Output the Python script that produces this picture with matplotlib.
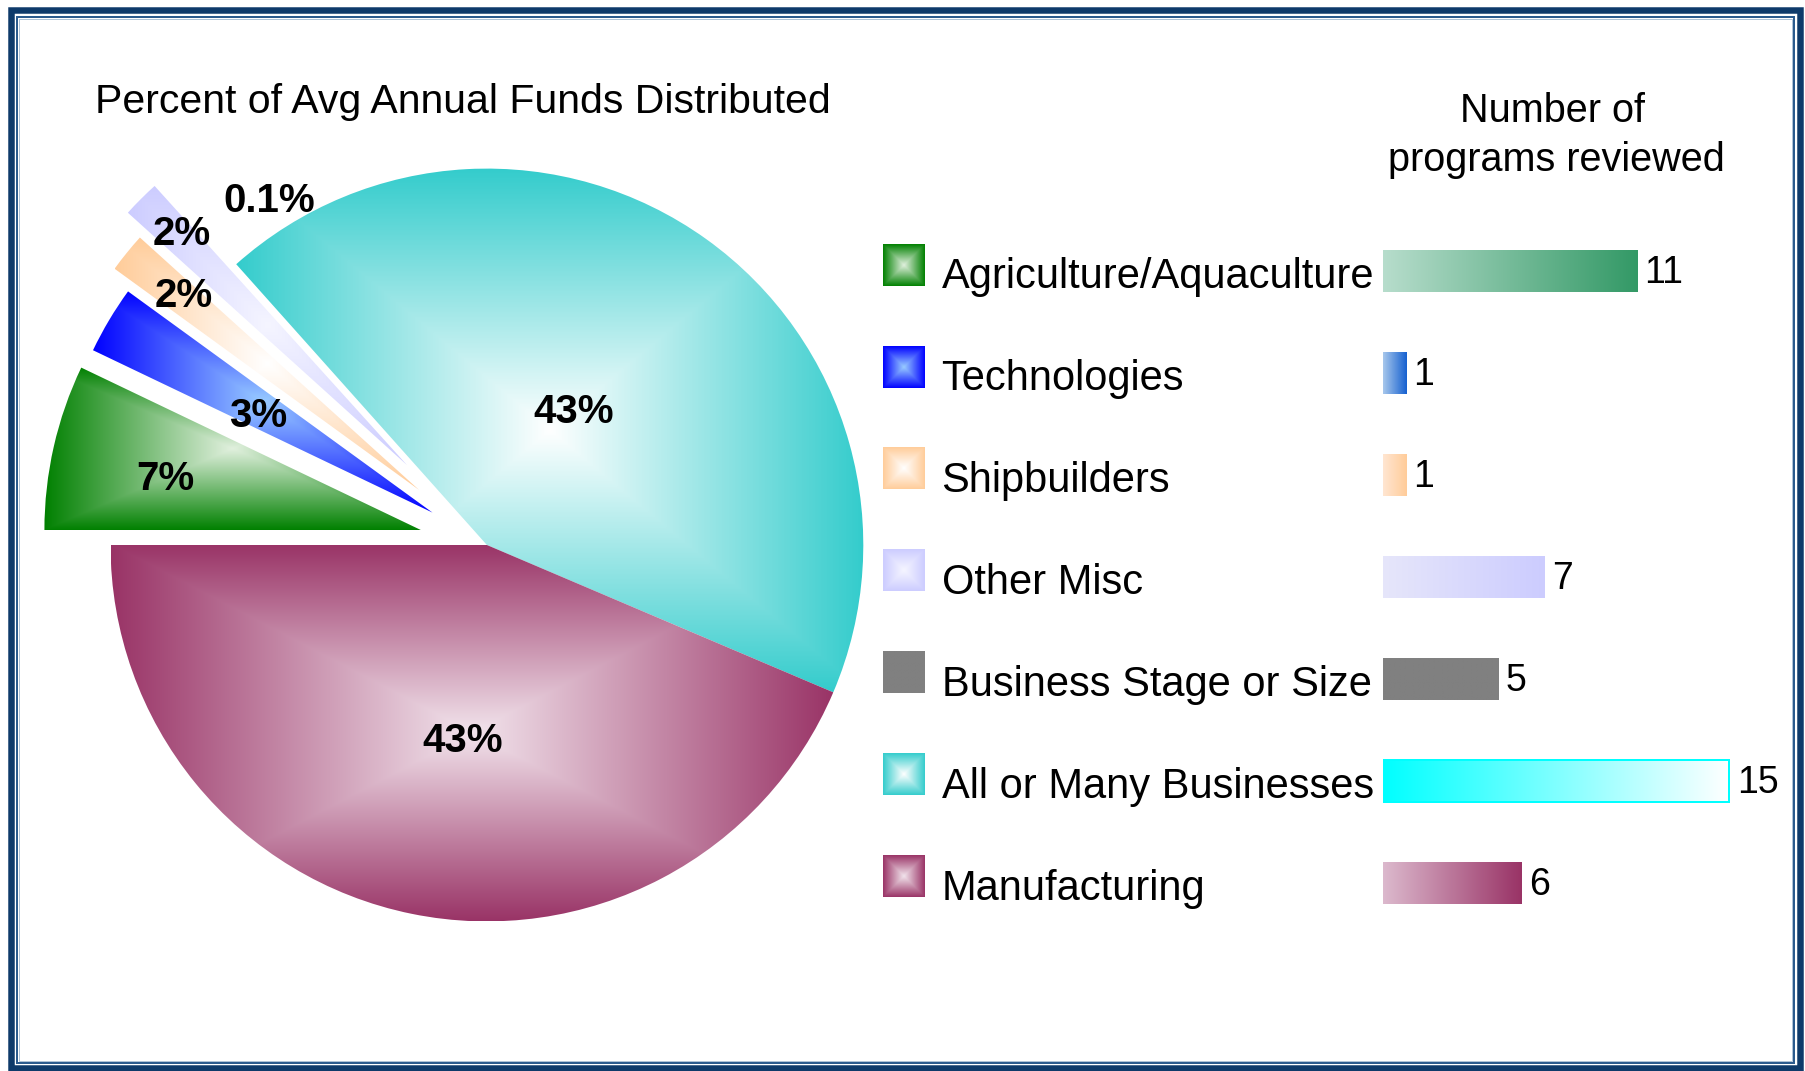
import numpy as np
import matplotlib
matplotlib.use("Agg")
import matplotlib.pyplot as plt
from matplotlib.colors import to_rgb
from matplotlib.patches import Rectangle

# ---------------- data ----------------
categories = ["Agriculture/Aquaculture", "Technologies", "Shipbuilders", "Other Misc",
              "Business Stage or Size", "All or Many Businesses", "Manufacturing"]
pie_share = [7.1, 2.9, 1.7, 1.6, 0.1, 43.0, 43.6]
pie_labels = ["7%", "3%", "2%", "2%", "0.1%", "43%", "43%"]
programs = [11, 1, 1, 7, 5, 15, 6]
title = "Percent of Avg Annual Funds Distributed"
bar_title_lines = ["Number of", "programs reviewed"]

# ---------------- styles ----------------
edge_cols = ['#008000', '#0000FF', '#FFCC99', '#CCCCFF', '#808080', '#33CCCC', '#993366']
center_cols = ['#E1F0DE', '#99CCFF', '#FFFFFF', '#F5F5FF', '#808080', '#FFFFFF', '#F2E4EC']
bar_left_cols = ['#B7DDCC', '#A8C8EC', '#FFE6D2', '#E6E6FA', '#808080', '#00FFFF', '#DCB9CD']
bar_right_cols = ['#339966', '#1560D0', '#FFCC99', '#CCCCFF', '#808080', '#FFFFFF', '#993366']
explode = [0.18, 0.168, 0.232, 0.30, 0.0, 0.0, 0.0]
label_r = [0.693, 0.536, 0.816, 0.865, 1.092, 0.431, 0.513]
label_dang = [0.6, 0.8, -1.0, -1.3, -9.9, 3.5, 4.3]

SANS = ['Liberation Sans', 'DejaVu Sans']
NARROW = ['Liberation Sans Narrow', 'Liberation Sans', 'DejaVu Sans']

W, H = 1805, 1071
fig = plt.figure(figsize=(W / 100, H / 100), dpi=100)
fig.patch.set_facecolor('white')


def Y(t):
    return H - t


def rect_grad(c_edge, c_center, nx, ny):
    nx = max(int(nx), 2)
    ny = max(int(ny), 2)
    xs = (np.arange(nx) + 0.5) / nx * 2 - 1
    ys = (np.arange(ny) + 0.5) / ny * 2 - 1
    X, Yg = np.meshgrid(xs, ys)
    t = np.maximum(np.abs(X), np.abs(Yg))[..., None]
    ce = np.array(to_rgb(c_edge))[None, None, :]
    cc = np.array(to_rgb(c_center))[None, None, :]
    return cc * (1 - t) + ce * t


def lin_grad(c_left, c_right, n=256):
    t = np.linspace(0, 1, n)[None, :, None]
    cl = np.array(to_rgb(c_left))[None, None, :]
    cr = np.array(to_rgb(c_right))[None, None, :]
    return cl * (1 - t) + cr * t


# ---------------- main (pixel) axes ----------------
main = fig.add_axes([0, 0, 1, 1])
main.axis('off')

# frame
main.add_patch(Rectangle((10.6, Y(1068)), 1799.7 - 10.6, 1068 - 9.9, fill=False,
                         lw=6.5 * 0.72, ec='#0E3A6A', zorder=5))
main.add_patch(Rectangle((17, Y(1063)), 1794 - 17, 1063 - 17, fill=False,
                         lw=2 * 0.72, ec='#2B5B8E', zorder=5))
main.add_patch(Rectangle((18.9, Y(1061.1)), 1792.1 - 18.9, 1061.1 - 18.9, fill=False,
                         lw=1 * 0.72, ec='#AFC2D6', zorder=5))

main.text(463, Y(97.9), title, ha='center', va='center_baseline', fontsize=29.5, family=SANS)
main.text(1552, Y(106.7), bar_title_lines[0], ha='center', va='center_baseline', fontsize=28.5, family=SANS)
main.text(1556, Y(155.7), bar_title_lines[1], ha='center', va='center_baseline', fontsize=28.5, family=SANS)

# legend squares and labels
sq_x0, sq_size = 882.7, 41.3
for i, cat in enumerate(categories):
    yc = 265.0 + 101.9 * i
    x0, x1 = sq_x0, sq_x0 + sq_size
    y0, y1 = Y(yc + sq_size / 2), Y(yc - sq_size / 2)
    img = rect_grad(edge_cols[i], center_cols[i], 60, 60)
    main.imshow(img, extent=(x0, x1, y0, y1), origin='lower', interpolation='bilinear',
                aspect='auto', zorder=2)
    main.text(941.5, Y(270.8 + 102 * i + 1.7), cat, ha='left', va='center_baseline',
              fontsize=30, family=SANS)

main.set_xlim(0, W)
main.set_ylim(0, H)

# ---------------- pie axes ----------------
R_PX = 376.4
PCX, PCY = 486.9, Y(545.0)
pax = fig.add_axes([0, 0, 2 * PCX / W, 2 * PCY / H])
pax.axis('off')
wedges, _ = pax.pie(pie_share, explode=explode, startangle=180, counterclock=False,
                    radius=1.0, center=(0, 0), wedgeprops=dict(linewidth=0))

for i, w in enumerate(wedges):
    th = np.radians(np.linspace(w.theta1, w.theta2, 600))
    px = np.r_[w.center[0] + w.r * np.cos(th), w.center[0]]
    py = np.r_[w.center[1] + w.r * np.sin(th), w.center[1]]
    x0, x1, y0, y1 = px.min(), px.max(), py.min(), py.max()
    w.set_edgecolor('none')
    if edge_cols[i] == center_cols[i]:
        # hair-thin slice: not visible in the original
        w.set_facecolor('none')
        continue
    w.set_facecolor('none')
    img = rect_grad(edge_cols[i], center_cols[i], (x1 - x0) * R_PX, (y1 - y0) * R_PX)
    im = pax.imshow(img, extent=(x0, x1, y0, y1), origin='lower', interpolation='bilinear',
                    aspect='auto', zorder=2)
    im.set_clip_path(w)

for i, w in enumerate(wedges):
    ang = np.radians((w.theta1 + w.theta2) / 2 + label_dang[i])
    lx = w.center[0] + label_r[i] * w.r * np.cos(ang)
    ly = w.center[1] + label_r[i] * w.r * np.sin(ang)
    pax.text(lx, ly, pie_labels[i], ha='center', va='center_baseline', fontsize=29,
             fontweight='bold', family=SANS, zorder=4)

pax.set_xlim(-PCX / R_PX, PCX / R_PX)
pax.set_ylim(-PCY / R_PX, PCY / R_PX)

# ---------------- bar axes ----------------
BX0, PPU = 1382.7, 23.1
ROW0, ROWSTEP = 270.8, 102.0
bar_top_px = ROW0 - 0.5 * ROWSTEP
bar_bot_px = ROW0 + 6.5 * ROWSTEP
BX1 = 1795.0
bax = fig.add_axes([BX0 / W, Y(bar_bot_px) / H, (BX1 - BX0) / W, (bar_bot_px - bar_top_px) / H])
bax.axis('off')
bars = bax.barh(np.arange(len(programs)), programs, height=41.7 / ROWSTEP, left=0,
                color='none', edgecolor='none', zorder=3)
for i, b in enumerate(bars):
    bx, by, bw, bh = b.get_x(), b.get_y(), b.get_width(), b.get_height()
    img = lin_grad(bar_left_cols[i], bar_right_cols[i])
    bax.imshow(img, extent=(bx, bx + bw, by, by + bh), origin='lower', interpolation='bilinear',
               aspect='auto', zorder=2)
    if categories[i] == "All or Many Businesses":
        b.set_edgecolor('#00FFFF')
        b.set_linewidth(2 * 0.72)
    bax.text(bw + 0.33, i - 2.0 / ROWSTEP, str(programs[i]), ha='left', va='center_baseline',
             fontsize=27, family=NARROW, zorder=4)

bax.set_xlim(0, (BX1 - BX0) / PPU)
bax.set_ylim(6.5, -0.5)

fig.savefig("out.png", dpi=100, facecolor='white')
